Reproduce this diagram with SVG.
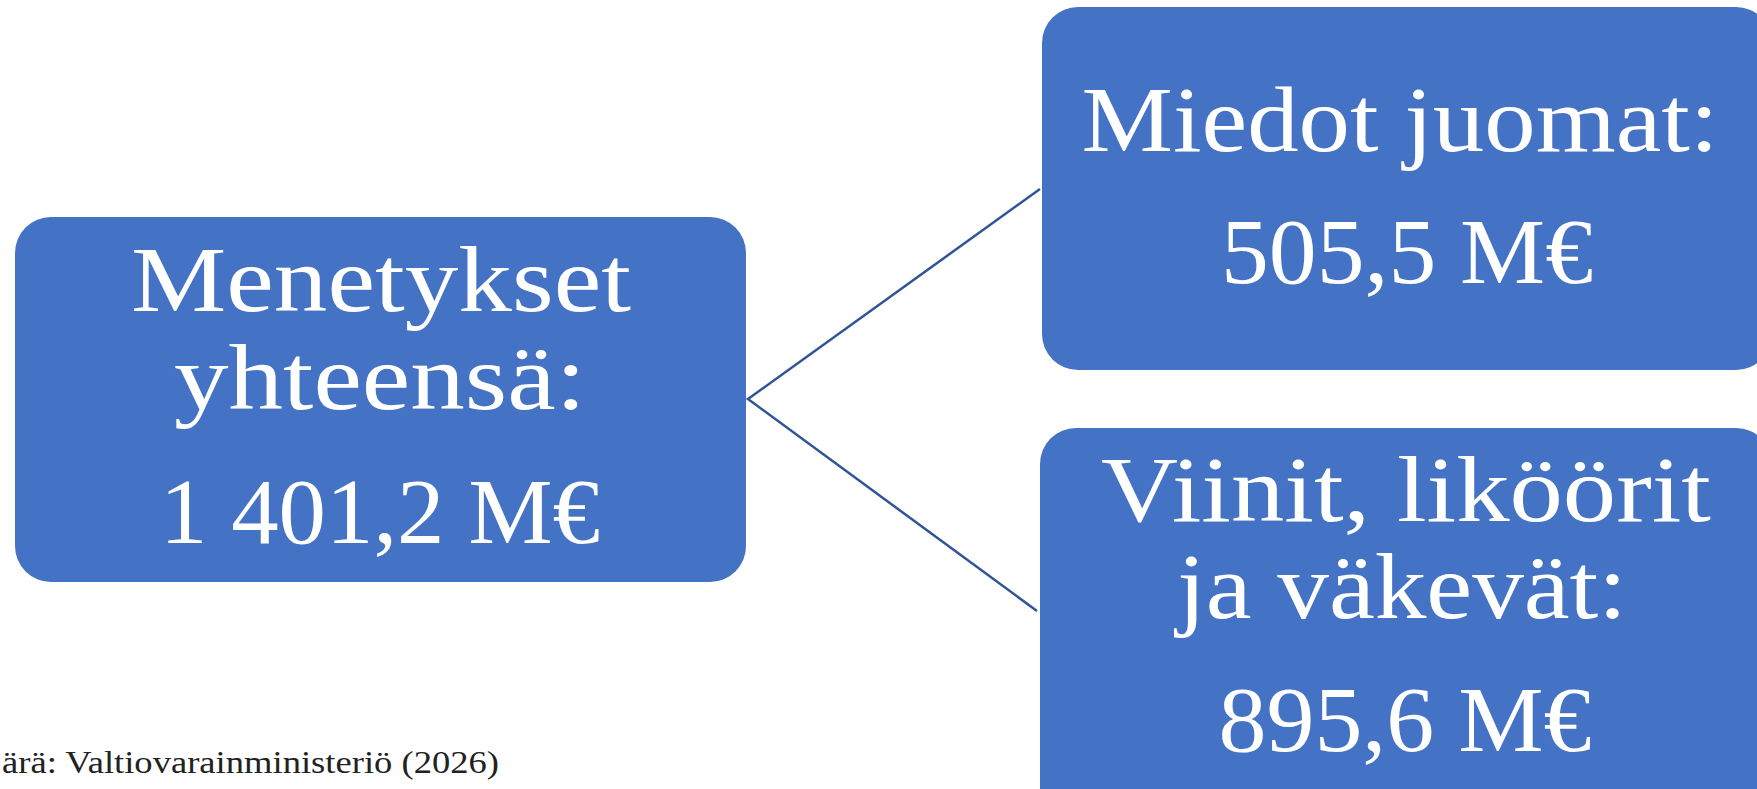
<svg xmlns="http://www.w3.org/2000/svg" width="1757" height="789" viewBox="0 0 1757 789">
<style>
.box{fill:#4472C4;}
.t{font-family:"Liberation Serif","DejaVu Serif",serif;font-size:94px;fill:#FFFFFF;text-anchor:middle;}
.conn{stroke:#2F5597;stroke-width:2.5;fill:none;}
.src{font-family:"Liberation Serif","DejaVu Serif",serif;font-size:32px;fill:#222222;}
</style>
<rect width="1757" height="789" fill="#FFFFFF"/>
<g id="connectors">
<path class="conn" d="M1040,189 L748,399 L1037,611"/>
</g>
<g id="node-total">
<rect class="box" x="15" y="217" width="731" height="365" rx="36"/>
<text class="t" x="381" y="311" textLength="500" lengthAdjust="spacingAndGlyphs">Menetykset</text>
<text class="t" x="380" y="409" textLength="412" lengthAdjust="spacingAndGlyphs">yhteensä:</text>
<text class="t" x="380" y="543" textLength="440" lengthAdjust="spacingAndGlyphs">1 401,2 M€</text>
</g>
<g id="node-mild">
<rect class="box" x="1042" y="7" width="730" height="363" rx="36"/>
<text class="t" x="1400" y="151" textLength="637" lengthAdjust="spacingAndGlyphs">Miedot juomat:</text>
<text class="t" x="1407" y="283" textLength="372" lengthAdjust="spacingAndGlyphs">505,5 M€</text>
</g>
<g id="node-wine">
<rect class="box" x="1040" y="428" width="732" height="400" rx="36"/>
<text class="t" x="1406" y="521" textLength="610" lengthAdjust="spacingAndGlyphs">Viinit, liköörit</text>
<text class="t" x="1402" y="618" textLength="450" lengthAdjust="spacingAndGlyphs">ja väkevät:</text>
<text class="t" x="1405" y="751" textLength="373" lengthAdjust="spacingAndGlyphs">895,6 M€</text>
</g>
<g id="source">
<text class="src" x="2" y="773" textLength="497" lengthAdjust="spacingAndGlyphs">ärä: Valtiovarainministeriö (2026)</text>
</g>
</svg>
